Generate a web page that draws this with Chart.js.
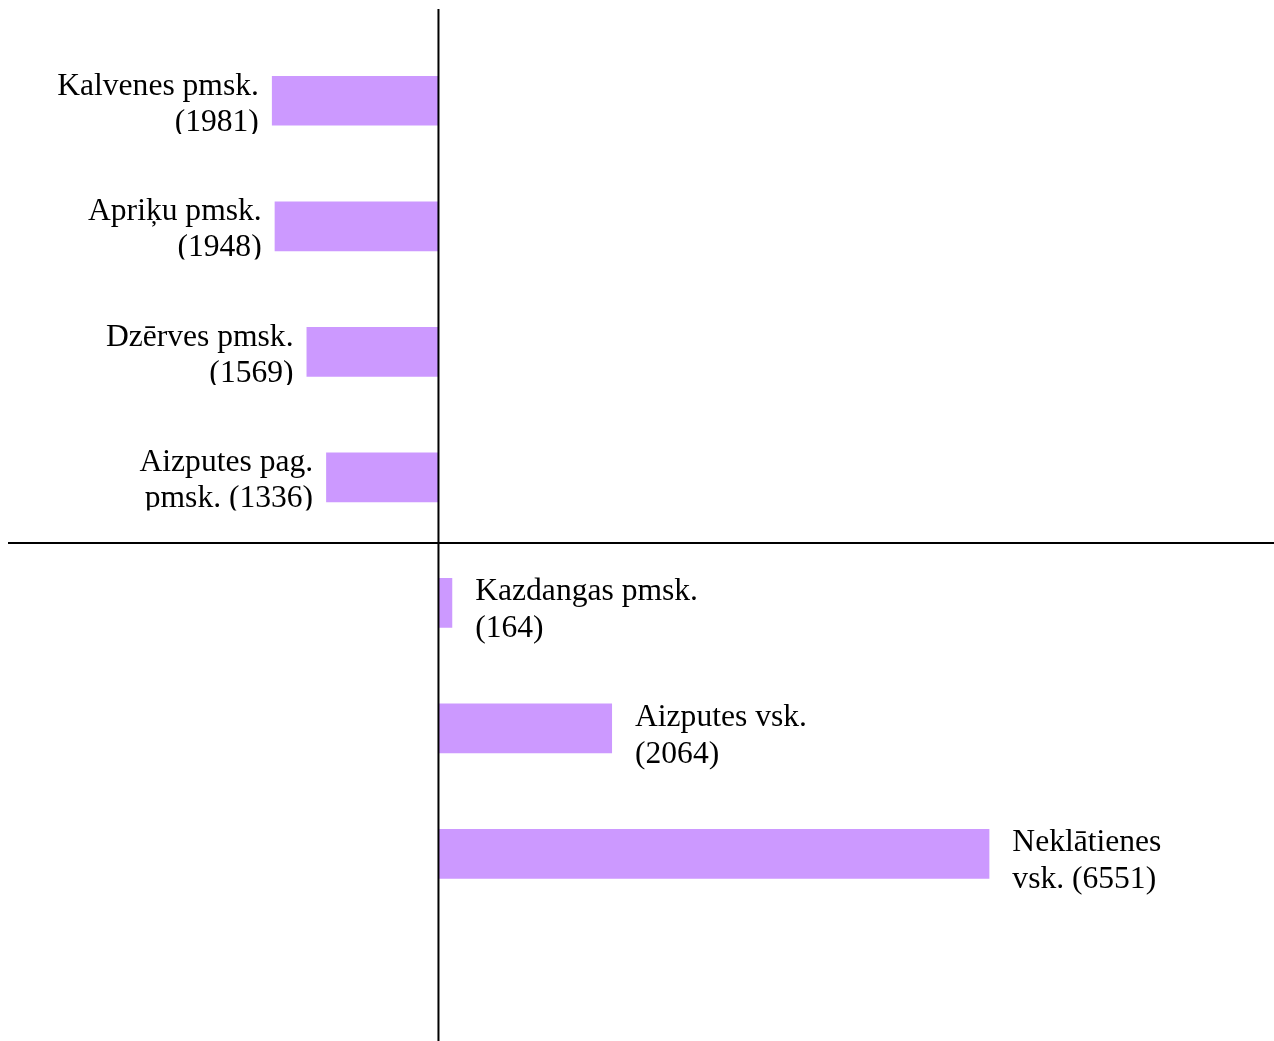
<!DOCTYPE html>
<html>
<head>
<meta charset="utf-8">
<script src="https://cdn.jsdelivr.net/npm/chart.js@4"></script>
<style>
  html, body { margin: 0; padding: 0; background: #ffffff; }
  #wrap { width: 1274px; height: 1041px; position: relative; }
</style>
</head>
<body>
<div id="wrap"><canvas id="c" width="1274" height="1041"></canvas></div>
<script>
// ---- data ----
const categories = ["Kalvenes pmsk.", "Apriķu pmsk.", "Dzērves pmsk.", "Aizputes pag. pmsk.", "Kazdangas pmsk.", "Aizputes vsk.", "Neklātienes vsk."];
const values = [-1981, -1948, -1569, -1336, 164, 2064, 6551];
const firstLineWords = [2, 2, 2, 2, 2, 2, 1];
const xMin = -5000;
const xMax = 9900;

const BAR_COLOR = "#CC99FF";
const FONT_PX = 30.5;
const STRETCH_X = 1.035;

function labelLines(i) {
  const words = (categories[i] + " (" + Math.abs(values[i]) + ")").split(" ");
  const n = firstLineWords[i];
  return [words.slice(0, n).join(" "), words.slice(n).join(" ")];
}

const axesLines = {
  id: "axesLines",
  afterDatasetsDraw(chart) {
    const ctx = chart.ctx;
    const xs = chart.scales.x, ys = chart.scales.y;
    const x0 = xs.getPixelForValue(0);
    const yMid = (ys.getPixelForValue(3) + ys.getPixelForValue(4)) / 2 + 3;
    ctx.save();
    ctx.strokeStyle = "#000000";
    ctx.lineWidth = 2;
    ctx.beginPath();
    ctx.moveTo(x0, 9);
    ctx.lineTo(x0, chart.height);
    ctx.moveTo(8, yMid);
    ctx.lineTo(chart.width, yMid);
    ctx.stroke();
    ctx.restore();
  }
};

const barLabels = {
  id: "barLabels",
  afterDraw(chart) {
    const ctx = chart.ctx;
    const meta = chart.getDatasetMeta(0);
    meta.data.forEach((bar, i) => {
      const props = bar.getProps(["x", "y", "base", "height"], true);
      const top = props.y - props.height / 2;
      const neg = values[i] < 0;
      const lines = labelLines(i);
      const textTop = top + (neg ? 0 : 3);
      const lineH = neg ? 36 : 37;
      const anchorX = neg ? props.x - 13 : props.x + 23;
      const clipH = neg ? 58 : 63;
      ctx.save();
      ctx.beginPath();
      ctx.rect(neg ? anchorX - 400 : anchorX - 5, textTop - 15, 405, 15 + clipH);
      ctx.clip();
      ctx.fillStyle = "#000000";
      ctx.font = FONT_PX + "px 'Liberation Serif', 'Times New Roman', serif";
      ctx.textBaseline = "alphabetic";
      ctx.textAlign = neg ? "right" : "left";
      ctx.translate(anchorX, 0);
      ctx.scale(STRETCH_X, 1);
      lines.forEach((ln, k) => {
        ctx.fillText(ln, 0, textTop + 19 + k * lineH);
      });
      ctx.restore();
    });
  }
};

new Chart(document.getElementById("c"), {
  type: "bar",
  data: {
    labels: categories,
    datasets: [{
      data: values,
      backgroundColor: BAR_COLOR,
      borderWidth: 0,
      categoryPercentage: 1.0,
      barPercentage: 0.396
    }]
  },
  options: {
    indexAxis: "y",
    responsive: false,
    animation: false,
    events: [],
    layout: { padding: { left: 18, right: 3, top: 38, bottom: 124.3 } },
    plugins: { legend: { display: false }, tooltip: { enabled: false } },
    scales: {
      x: { type: "linear", min: xMin, max: xMax, display: false, grid: { display: false } },
      y: { type: "category", display: false, grid: { display: false }, offset: true }
    }
  },
  plugins: [axesLines, barLabels]
});
</script>
</body>
</html>
